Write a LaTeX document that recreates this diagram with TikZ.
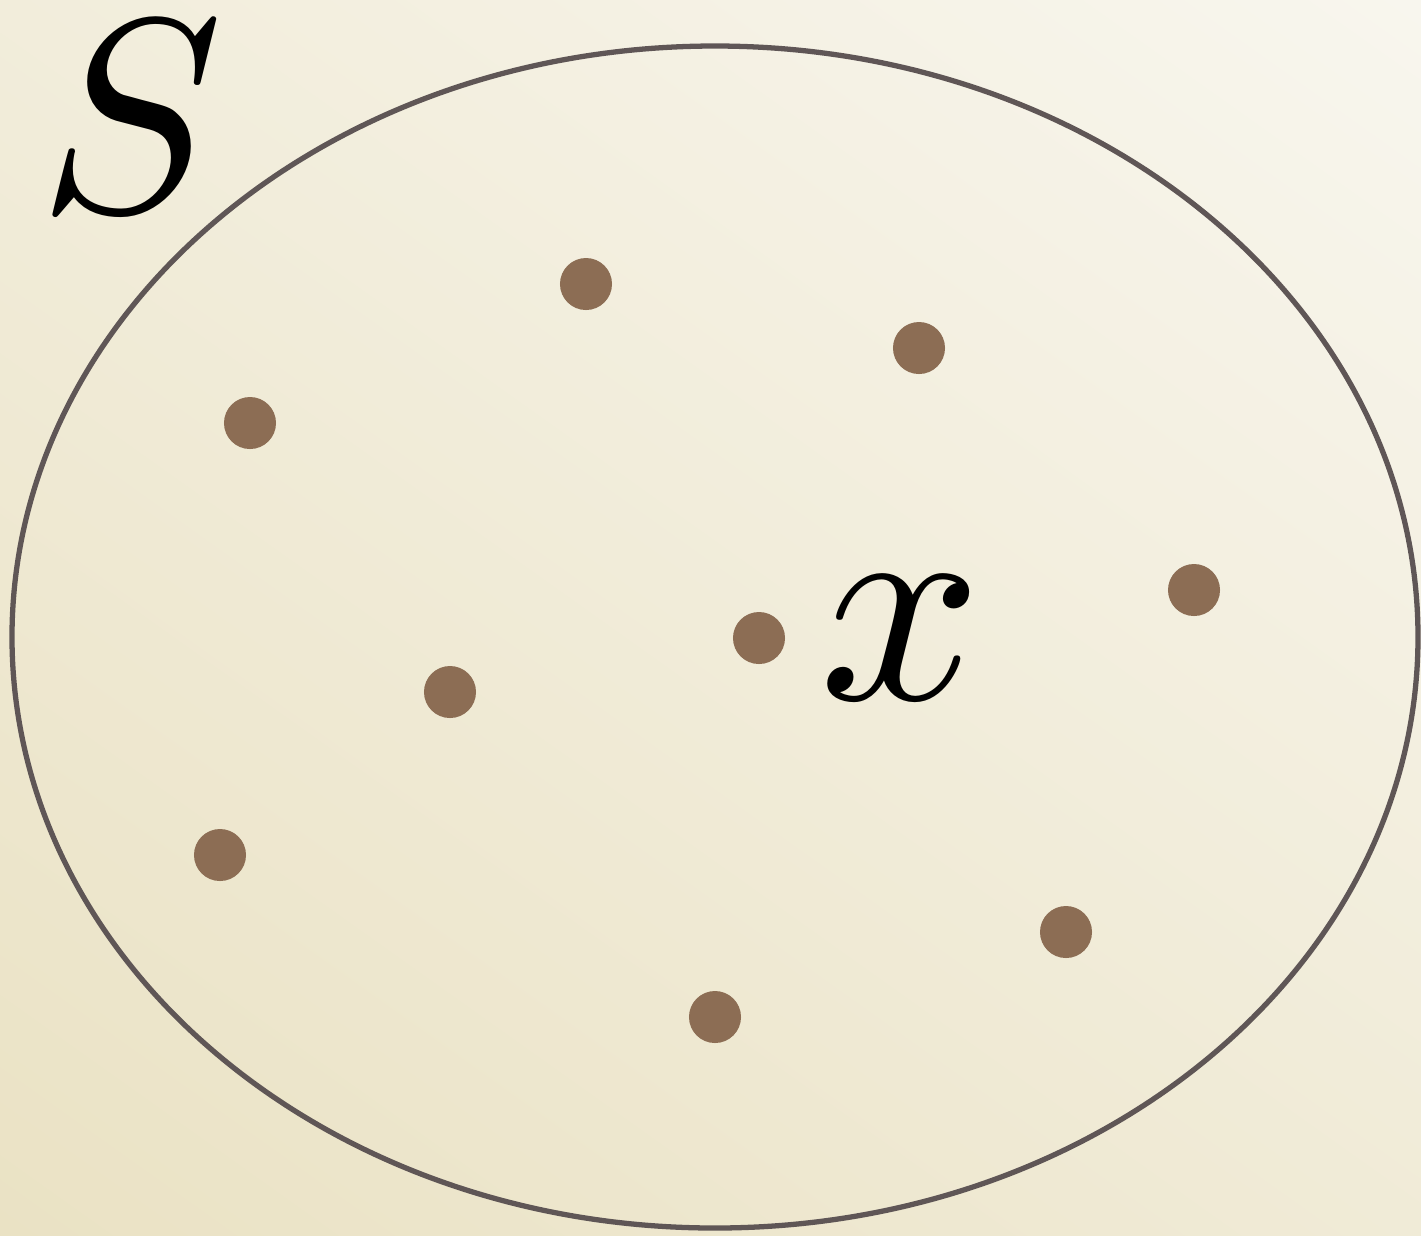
\documentclass[tikz,border=0pt]{standalone}
\usepackage{amsmath, amssymb}
\usetikzlibrary{shapes, backgrounds, positioning, shadings}

\definecolor{paperlight}{HTML}{F8F6EE}
\definecolor{paperdark}{HTML}{EAE2C4}
\definecolor{setline}{HTML}{5F5656}
\definecolor{pointfill}{HTML}{8C6D54}

\tikzset{
  pt/.style={circle, fill=pointfill, inner sep=0pt, minimum size=0.52cm},
  biglabel/.style={scale=8.1, inner sep=0pt}
}

\begin{document}
\begin{tikzpicture}[x=0.01cm, y=-0.01cm]
	% Paper background
	\shade[upper right=paperlight, upper left=paperlight!55!paperdark,
	       lower right=paperlight!45!paperdark, lower left=paperdark]
	      (0,0) rectangle (1421,1235);
	\useasboundingbox (0,0) rectangle (1421,1235);
	
	% The set
	\draw[setline, line width=1.5pt] (715,637) ellipse [x radius=703, y radius=591];
	\node[biglabel, scale=0.97] (S) at (131,117) {$S$};
	
	% Points of S
	\foreach \name/\px/\py in {a/586/284, b/919/348, c/250/423, d/1194/590,
	                           e/759/638, f/450/692, g/220/855, h/1066/932, i/715/1017} {
		\node[pt] (\name) at (\px,\py) {};
	}
	
	% The chosen point
	\node[biglabel, right=0.28cm of e] (x) {$x$};
\end{tikzpicture}
\end{document}
